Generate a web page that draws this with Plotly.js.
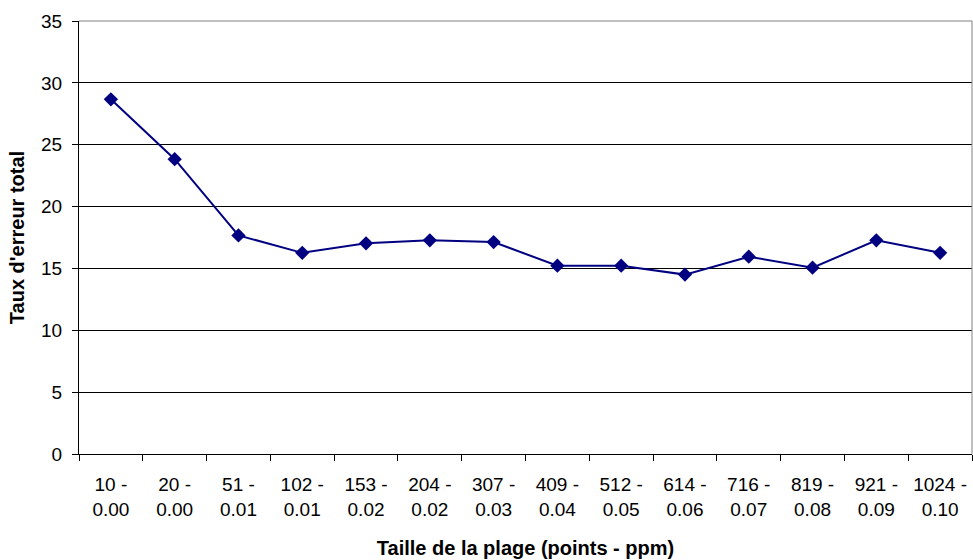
<!DOCTYPE html>
<html>
<head>
<meta charset="utf-8">
<script src="https://cdn.plot.ly/plotly-3.0.1.min.js"></script>
<style>html,body{margin:0;padding:0;background:#fff;}#chart{width:973px;height:560px;}</style>
</head>
<body>
<div id="chart"></div>
<script>
const rangeStart = ["10", "20", "51", "102", "153", "204", "307", "409", "512", "614", "716", "819", "921", "1024"];
const rangePpm = ["0.00", "0.00", "0.01", "0.01", "0.02", "0.02", "0.03", "0.04", "0.05", "0.06", "0.07", "0.08", "0.09", "0.10"];
const errorRate = [28.67, 23.83, 17.67, 16.26, 17.03, 17.27, 17.13, 15.22, 15.22, 14.5, 15.95, 15.06, 17.27, 16.26];

const categories = rangeStart.map((s, i) => s + " -<br>" + rangePpm[i]);

const trace = {
  x: categories,
  y: errorRate,
  type: "scatter",
  mode: "lines+markers",
  line: {color: "#000080", width: 2},
  marker: {symbol: "diamond", size: 11, color: "#000080"},
  hoverinfo: "x+y"
};

const font = {family: "Liberation Sans, Arial, sans-serif", color: "#000"};

const layout = {
  width: 973, height: 560,
  margin: {l: 79, r: 1, t: 21, b: 106},
  paper_bgcolor: "#fff", plot_bgcolor: "#fff",
  showlegend: false,
  font: Object.assign({size: 19}, font),
  xaxis: {
    type: "category",
    range: [-0.5, categories.length - 0.5],
    autorange: false,
    tickson: "boundaries",
    ticks: "outside", ticklen: 6, tickcolor: "#000", tickwidth: 1,
    ticklabelstandoff: 13,
    showline: true, linecolor: "#000", linewidth: 1,
    showgrid: false, zeroline: false,
    tickfont: Object.assign({size: 19}, font),
    tickangle: 0,
    automargin: false,
    title: {text: "Taille de la plage (points - ppm)", font: Object.assign({size: 20, weight: "bold"}, font), standoff: 22}
  },
  yaxis: {
    range: [0, 35], dtick: 5, tick0: 0,
    ticks: "outside", ticklen: 6, tickcolor: "#000", tickwidth: 1,
    ticklabelstandoff: 6,
    showline: true, linecolor: "#000", linewidth: 1,
    showgrid: true, gridcolor: "#000", gridwidth: 1,
    zeroline: false,
    tickfont: Object.assign({size: 19}, font),
    automargin: false,
    title: {text: "Taux d'erreur total", font: Object.assign({size: 20, weight: "bold"}, font), standoff: 11}
  },
  shapes: [
    {type: "line", xref: "paper", yref: "paper", x0: 1, x1: 1, y0: 0, y1: 1, line: {color: "#808080", width: 1}},
    {type: "line", xref: "paper", yref: "paper", x0: 0, x1: 1, y0: 1, y1: 1, line: {color: "#808080", width: 1}}
  ]
};

Plotly.newPlot("chart", [trace], layout, {displayModeBar: false, staticPlot: true});
</script>
</body>
</html>
